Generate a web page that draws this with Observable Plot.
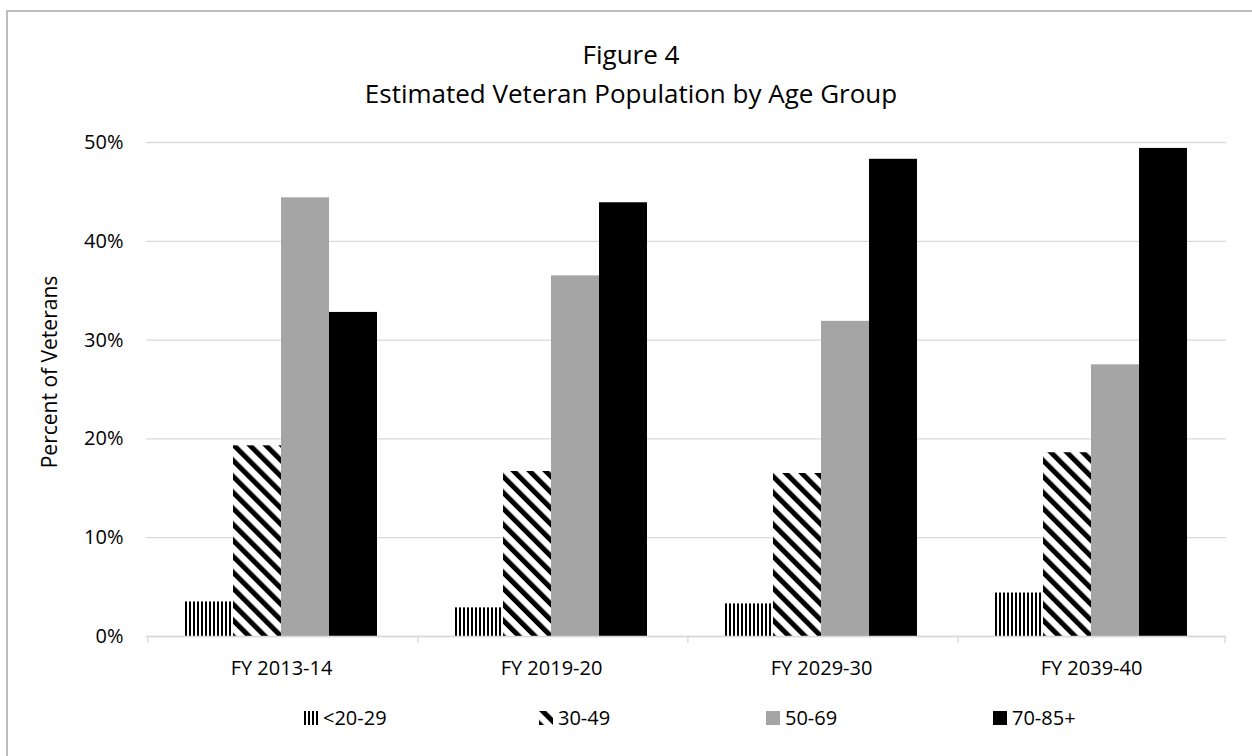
<!DOCTYPE html>
<html><head><meta charset="utf-8">
<script src="https://cdn.jsdelivr.net/npm/d3@7"></script>
<script src="https://cdn.jsdelivr.net/npm/@observablehq/plot@0.6"></script>
<style>
html,body{margin:0;padding:0;background:#fff;}
body{width:1252px;height:756px;overflow:hidden;position:relative;font-family:"Open Sans",sans-serif;color:#000;}
#frame{position:absolute;left:6px;top:10px;width:1400px;height:1000px;border-left:2px solid #bcbcbc;border-top:2px solid #bcbcbc;}
#title{position:absolute;left:0;width:1262px;top:35px;text-align:center;font-size:26px;line-height:39px;}
#chart{position:absolute;left:0;top:120px;}
#ylabel{position:absolute;left:49px;top:372px;transform:translate(-50%,-50%) rotate(-90deg);white-space:nowrap;font-size:21px;line-height:24px;}
.li{position:absolute;top:704px;display:flex;align-items:center;font-size:20px;line-height:28px;white-space:nowrap;}
.li svg{margin-right:5px;}
</style></head><body>
<svg width="0" height="0" style="position:absolute">
<defs>
<pattern id="pVert" patternUnits="userSpaceOnUse" width="4" height="4"><rect width="4" height="4" fill="#fff"/><rect width="2" height="4" fill="#000"/></pattern>
<pattern id="pDiag" patternUnits="userSpaceOnUse" width="11.3" height="11.3" patternTransform="rotate(-45)"><rect width="11.3" height="11.3" fill="#fff"/><rect width="5" height="11.3" fill="#000"/></pattern>
</defs></svg>
<div id="frame"></div>
<div id="title">Figure 4<br>Estimated Veteran Population by Age Group</div>
<div id="chart"></div>
<div id="ylabel">Percent of Veterans</div>
<div id="legend"></div>
<script>
// ---- data ----
const periods = ["FY 2013-14", "FY 2019-20", "FY 2029-30", "FY 2039-40"];
const ages = ["<20-29", "30-49", "50-69", "70-85+"];
const ageUnder30 = [3.5, 2.9, 3.3, 4.4];
const age30to49 = [19.3, 16.7, 16.5, 18.6];
const age50to69 = [44.4, 36.5, 31.9, 27.5];
const age70plus = [32.8, 43.9, 48.3, 49.4];
const yTicks = [0, 10, 20, 30, 40, 50];

const series = [ageUnder30, age30to49, age50to69, age70plus];
const fills = ["url(#pVert)", "url(#pDiag)", "#a5a5a5", "#000000"];
const rows = periods.flatMap((p, i) => ages.map((a, j) => ({period: p, age: a, value: series[j][i]})));

// layout
const W = 1252, H = 566, mL = 145, mR = 26, mT = 22, mB = 50;
const po = 0.757;
const step = (W - mL - mR) / periods.length;
const bw = step / (ages.length + 2 * po);
const edge = po * bw + bw / 2;
const leftSeps = periods.map(p => ({period: p, age: ages[0]}));
const rightSeps = [{period: periods[periods.length - 1], age: ages[ages.length - 1]}];
const grid = "#d9d9d9";

const chart = Plot.plot({
  width: W, height: H,
  marginLeft: mL, marginRight: mR, marginTop: mT, marginBottom: mB,
  style: {fontFamily: "'Open Sans', sans-serif", fontSize: "20px", color: "#000", background: "transparent"},
  fx: {domain: periods, padding: 0, label: null},
  x: {domain: ages, paddingInner: 0, paddingOuter: po, axis: null},
  y: {domain: [0, 50], label: null},
  color: {domain: ages, range: fills},
  marks: [
    Plot.gridY(yTicks, {stroke: grid, strokeOpacity: 1, strokeWidth: 1.3}),
    Plot.axisY(yTicks, {tickSize: 0, tickPadding: 23, tickFormat: d => d + "%", label: null, fontSize: 20}),
    Plot.axisFx({anchor: "bottom", tickSize: 0, tickPadding: 24, label: null, fontSize: 20}),
    Plot.barY(rows, {fx: "period", x: "age", y: "value", fill: "age"}),
    Plot.ruleY([0], {stroke: grid, strokeWidth: 1.3}),
    Plot.ruleX(leftSeps, {fx: "period", x: "age", y1: 0, y2: 0, insetBottom: -7, dx: -edge, stroke: grid, strokeWidth: 1.3}),
    Plot.ruleX(rightSeps, {fx: "period", x: "age", y1: 0, y2: 0, insetBottom: -7, dx: edge, stroke: grid, strokeWidth: 1.3})
  ]
});
document.getElementById("chart").appendChild(chart);

// legend
const legendLeft = [304, 539, 766, 993];
const legend = document.getElementById("legend");
ages.forEach((a, j) => {
  const item = document.createElement("div");
  item.className = "li";
  item.style.left = legendLeft[j] + "px";
  item.innerHTML = `<svg width="14" height="14"><rect width="14" height="14" fill="${fills[j]}"/></svg><span></span>`;
  item.querySelector("span").textContent = a;
  legend.appendChild(item);
});
</script>
</body></html>
